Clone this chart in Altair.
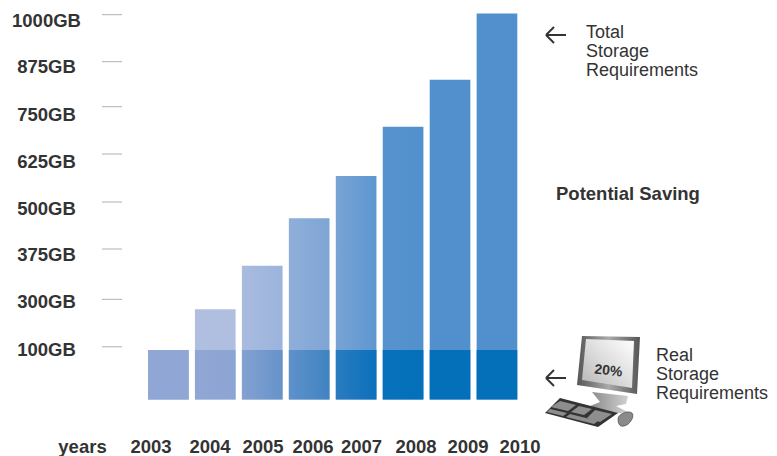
import altair as alt
import pandas as pd

# Yearly storage figures in GB
years = ["2003", "2004", "2005", "2006", "2007", "2008", "2009", "2010"]
total_gb = [94, 258, 350, 457, 568, 697, 825, 1003]
real_gb = [94, 94, 94, 94, 94, 94, 94, 94]

# Labelled levels of the irregular storage axis
axis_gb = [1000, 875, 750, 625, 500, 375, 300, 100]
axis_text = ["1000GB", "875GB", "750GB", "625GB", "500GB", "375GB", "300GB", "100GB"]

# Left and right colours of each bar's two zones
total_colors = [
    ("#90a6d5", "#90a6d5"), ("#b0bfe0", "#b0bfe0"), ("#a9bbdf", "#9bb4dc"),
    ("#90aeda", "#7ea5d5"), ("#79a3d5", "#5d97cf"), ("#5693ce", "#5290cd"),
    ("#5290cd", "#5290cd"), ("#5290cd", "#5290cd"),
]
real_colors = [
    ("#90a6d5", "#90a6d5"), ("#90a6d5", "#8da5d4"), ("#84a1d2", "#6593c9"),
    ("#5f92cb", "#3f83c1"), ("#2a7cc0", "#0b70bc"), ("#0871bb", "#0470ba"),
    ("#0470ba", "#0470ba"), ("#0470ba", "#0470ba"),
]

# Layout, in canvas pixels
W, H = 777, 456
FONT = "Liberation Sans"
INK = "#333333"
label_dy = [11.8, 11.6, 14, 13.5, 12.5, 12, 8.7, 9.3]
year_label_x = [151, 210, 263, 313, 361.5, 416, 468, 520]

y_scale = alt.Scale(
    domain=[0, 100, 300, 375, 500, 625, 750, 875, 1000],
    range=[399.5, 346.8, 299.3, 249, 202, 154, 106.7, 61.7, 14.7],
)
x_scale = alt.Scale(domain=years, range=[148, 517.3], paddingInner=0.134, paddingOuter=0)
one_row = pd.DataFrame({"k": [0]})


def h_gradient(left, right):
    return alt.Gradient(
        gradient="linear",
        x1=0, x2=1, y1=0, y2=0,
        stops=[alt.GradientStop(color=left, offset=0), alt.GradientStop(color=right, offset=1)],
    )


def bar(year, gb, colors):
    frame = pd.DataFrame({"year": [year], "gb": [gb]})
    return alt.Chart(frame).mark_bar(fill=h_gradient(*colors), cornerRadius=0).encode(
        x=alt.X("year:N", scale=x_scale, axis=None),
        y=alt.Y("gb:Q", scale=y_scale, axis=None, stack=None),
    )


def text(content, x, y, bold=False, size=18, align="left", angle=0):
    return alt.Chart(one_row).mark_text(
        text=content, font=FONT, fontSize=size, color=INK,
        fontWeight="bold" if bold else "normal",
        align=align, baseline="alphabetic", angle=angle,
    ).encode(x=alt.value(x), y=alt.value(y))


def segment(x, y, x2, y2):
    return alt.Chart(one_row).mark_rule(stroke=INK, strokeWidth=2).encode(
        x=alt.value(x), y=alt.value(y), x2=alt.value(x2), y2=alt.value(y2)
    )


def arrow(x, y):
    return [segment(x, y, x + 20, y), segment(x, y, x + 8, y - 8), segment(x, y, x + 8, y + 8)]


def shape(path, fill, stroke=None):
    # A size of 4 makes one path unit equal to one pixel
    props = dict(shape=path, size=4, filled=True, fill=fill, opacity=1, strokeWidth=0.6)
    if stroke:
        props["stroke"] = stroke
    return alt.Chart(one_row).mark_point(**props).encode(x=alt.value(0), y=alt.value(0))


layers = []

# Level ticks and their labels
tick_frame = pd.DataFrame({"gb": axis_gb})
layers.append(
    alt.Chart(tick_frame).mark_rule(stroke="#b0b0b0", strokeWidth=1).encode(
        x=alt.value(102), x2=alt.value(122),
        y=alt.Y("gb:Q", scale=y_scale, axis=None),
    )
)
for gb, label, dy in zip(axis_gb, axis_text, label_dy):
    frame = pd.DataFrame({"gb": [gb], "label": [label]})
    layers.append(
        alt.Chart(frame).mark_text(
            font=FONT, fontSize=18.5, fontWeight="bold", color=INK,
            align="center", baseline="alphabetic", dy=dy,
        ).encode(
            x=alt.value(46.5),
            y=alt.Y("gb:Q", scale=y_scale, axis=None),
            text="label:N",
        )
    )

# Total demand behind, real demand in front
for year, gb, colors in zip(years, total_gb, total_colors):
    layers.append(bar(year, gb, colors))
for year, gb, colors in zip(years, real_gb, real_colors):
    layers.append(bar(year, gb, colors))

# Year row
layers.append(text("years", 82.5, 453, bold=True, size=18.5, align="center"))
for year, x in zip(years, year_label_x):
    layers.append(text(year, x, 453, bold=True, size=18.5, align="center"))

# Annotations on the right
layers += arrow(546, 35)
layers += arrow(546, 378)
for content, y in [("Total", 38), ("Storage", 57), ("Requirements", 76)]:
    layers.append(text(content, 586, y))
for content, y in [("Real", 361), ("Storage", 380), ("Requirements", 399)]:
    layers.append(text(content, 656, y))
layers.append(text("Potential Saving", 556, 200, bold=True, size=18.5))

# Desktop computer icon
stand = "M592 392 L628 396 L626 404 L616 406 L628 412 L612 414 L590 406 L600 402 Z"
monitor = "M582 336 L640 337 L637 394 L577 385 Z"
screen = "M586 339 L634 341 L632 388 L582 380 Z"
keyboard = "M560 398 L618 413 L598 427 L545 413 Z"
keys = (
    "M560 401 L576 405 L568 411 L551 407 Z "
    "M579 406 L592 409 L584 415 L571 412 Z "
    "M550 409 L567 413 L563 416 L547 412 Z "
    "M570 414 L598 421 L594 424 L566 417 Z "
    "M595 410 L612 414 L600 422 L587 418 Z"
)
mouse = (
    "M618 419 C618 414 628 410 632 413 C635 416 630 425 624 426 C620 427 618 424 618 419 Z"
)
layers.append(shape(stand, alt.Gradient(
    gradient="linear", x1=0, x2=1, y1=0, y2=0,
    stops=[alt.GradientStop(color="#8a8a8a", offset=0), alt.GradientStop(color="#d0d0d0", offset=1)],
)))
layers.append(shape(monitor, alt.Gradient(
    gradient="linear", x1=0, x2=1, y1=0, y2=0,
    stops=[
        alt.GradientStop(color="#555555", offset=0),
        alt.GradientStop(color="#aaaaaa", offset=0.5),
        alt.GradientStop(color="#555555", offset=1),
    ],
)))
layers.append(shape(screen, alt.Gradient(
    gradient="linear", x1=1, x2=0, y1=0, y2=1,
    stops=[
        alt.GradientStop(color="#ffffff", offset=0),
        alt.GradientStop(color="#dddddd", offset=0.5),
        alt.GradientStop(color="#b5b5b5", offset=1),
    ],
)))
layers.append(shape(keyboard, "#333333"))
layers.append(shape(keys, "#8e8e8e"))
layers.append(shape(mouse, "#8a8a8a", "#333333"))
layers.append(text("20%", 608, 375, bold=True, size=14, align="center", angle=6))

chart = (
    alt.layer(*layers)
    .properties(width=W, height=H, padding=0, background="white",
                autosize=alt.AutoSizeParams(type="none"))
    .configure_view(stroke=None)
)

chart.save("out.html", embed_options={"renderer": "svg", "actions": False})
